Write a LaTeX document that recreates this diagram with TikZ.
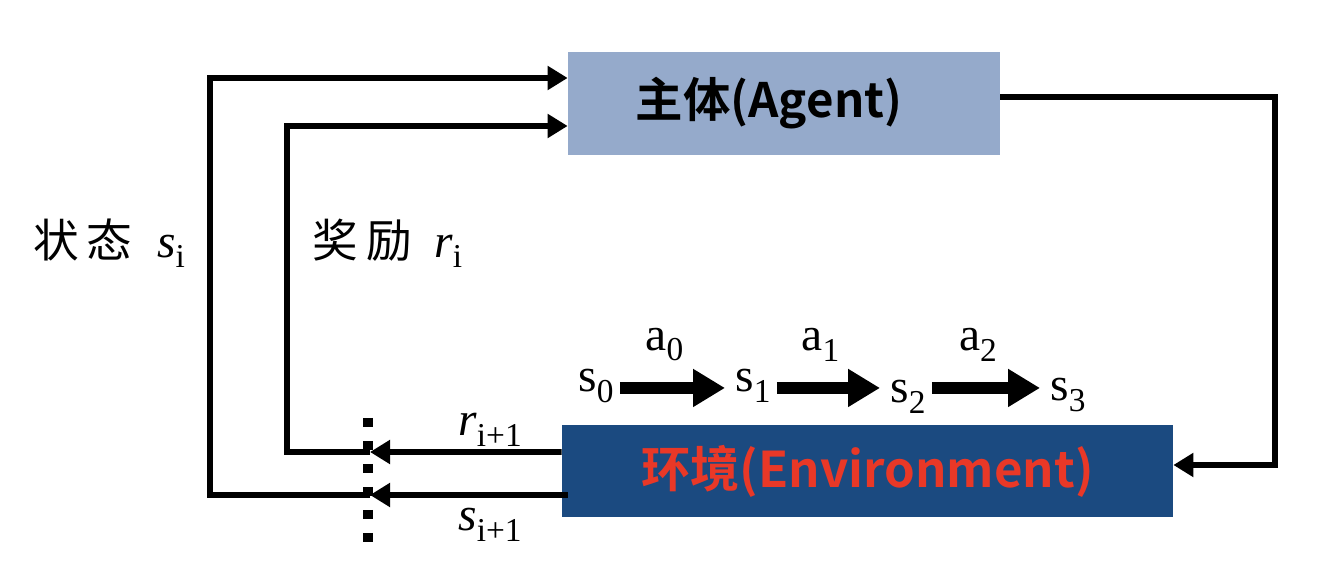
\documentclass[tikz,border=0pt]{standalone}
\usepackage{fontspec}
\setmainfont{Liberation Serif}
\newfontfamily\cjk{Noto Sans CJK SC}
\newfontfamily\cjkbold{Noto Sans CJK SC Bold}
\usepackage{xcolor}
\usetikzlibrary{arrows.meta,positioning}
\definecolor{agentblue}{RGB}{149,170,203}
\definecolor{envblue}{RGB}{27,74,128}
\definecolor{envred}{RGB}{233,56,39}
\newcommand{\lbl}{\fontsize{27}{30}\selectfont}
\newcommand{\sub}[1]{\raisebox{-0.22em}{\fontsize{19}{21}\selectfont #1}}

\begin{document}
\begin{tikzpicture}[
    loopline/.style={line width=3.4pt, -{Triangle[length=0.4cm,width=0.46cm]}},
    stepline/.style={line width=6.8pt, -{Triangle[length=0.64cm,width=0.72cm]},
        shorten <=0.12cm, shorten >=0.2cm},
    snode/.style={inner sep=0pt, anchor=base west, font=\lbl}
]
    \useasboundingbox (0,0) rectangle (26.88,11.72);

    % agent and environment
    \node[fill=agentblue, minimum width=8.64cm, minimum height=2.06cm] (agent)
        at (15.68,9.65) {\cjkbold\fontsize{27}{30}\selectfont 主体(Agent)\hspace*{0.6cm}};
    \node[fill=envblue, minimum width=12.22cm, minimum height=1.84cm] (env)
        at (17.35,2.30) {\cjkbold\fontsize{28}{31}\selectfont\color{envred} 环境(Environment)};

    % action goes down to the environment
    \coordinate (rturn) at (25.5,2.42);
    \draw[loopline] ([yshift=0.13cm]agent.east) -| (rturn) -- ([yshift=0.12cm]env.east);

    % dotted cut
    \coordinate (cuttop) at (7.36,3.36);
    \coordinate (cutbot) at (7.36,0.88);
    \draw[line width=0.2cm, dash pattern=on 0.18cm off 0.28cm] (cuttop) -- (cutbot);

    % reward and state go back to the agent
    \coordinate (rcut) at (7.4,2.68);
    \coordinate (scut) at (7.4,1.82);
    \coordinate (rcorner) at (5.74,2.68);
    \coordinate (scorner) at (4.2,1.82);
    \draw[loopline] ([yshift=0.38cm]env.west) -- (rcut);
    \draw[loopline] ([xshift=0.12cm,yshift=-0.48cm]env.west) -- (scut);
    \draw[loopline] (rcut) -- (rcorner) |- ([yshift=-0.45cm]agent.west);
    \draw[loopline] (scut) -- (scorner) |- ([yshift=0.51cm]agent.west);

    \node[font=\lbl] (lstate) at (2.18,6.86)
        {{\cjk\fontsize{26}{30}\selectfont 状\hspace{0.15cm}态}\hspace{0.5cm}\textit{s}\sub{i}};
    \node[font=\lbl] (lreward) at (7.75,6.86)
        {{\cjk\fontsize{26}{30}\selectfont 奖\hspace{0.15cm}励}\hspace{0.45cm}\textit{r}\sub{i}};
    \node[font=\lbl] (lrnext) at (9.8,3.12) {\textit{r}\sub{i+1}};
    \node[font=\lbl] (lsnext) at (9.8,1.22) {\textit{s}\sub{i+1}};

    % state sequence
    \node[snode] (s0) at (11.56,3.88) {s\sub{0}};
    \node[snode] (s1) at (14.7,3.88) {s\sub{1}};
    \node[snode] (s2) at (17.8,3.66) {s\sub{2}};
    \node[snode] (s3) at (21.0,3.7) {s\sub{3}};
    \draw[stepline] (s0.mid east) -- (s0.mid east -| s1.west)
        node[midway, above=0.3cm, xshift=-0.2cm, font=\lbl] (a0) {a\sub{0}};
    \draw[stepline] (s1.mid east) -- (s1.mid east -| s2.west)
        node[midway, above=0.3cm, xshift=-0.2cm, font=\lbl] (a1) {a\sub{1}};
    \draw[stepline] (s1.mid east -| s2.east) -- (s1.mid east -| s3.west)
        node[midway, above=0.3cm, xshift=-0.2cm, font=\lbl] (a2) {a\sub{2}};
\end{tikzpicture}
\end{document}
